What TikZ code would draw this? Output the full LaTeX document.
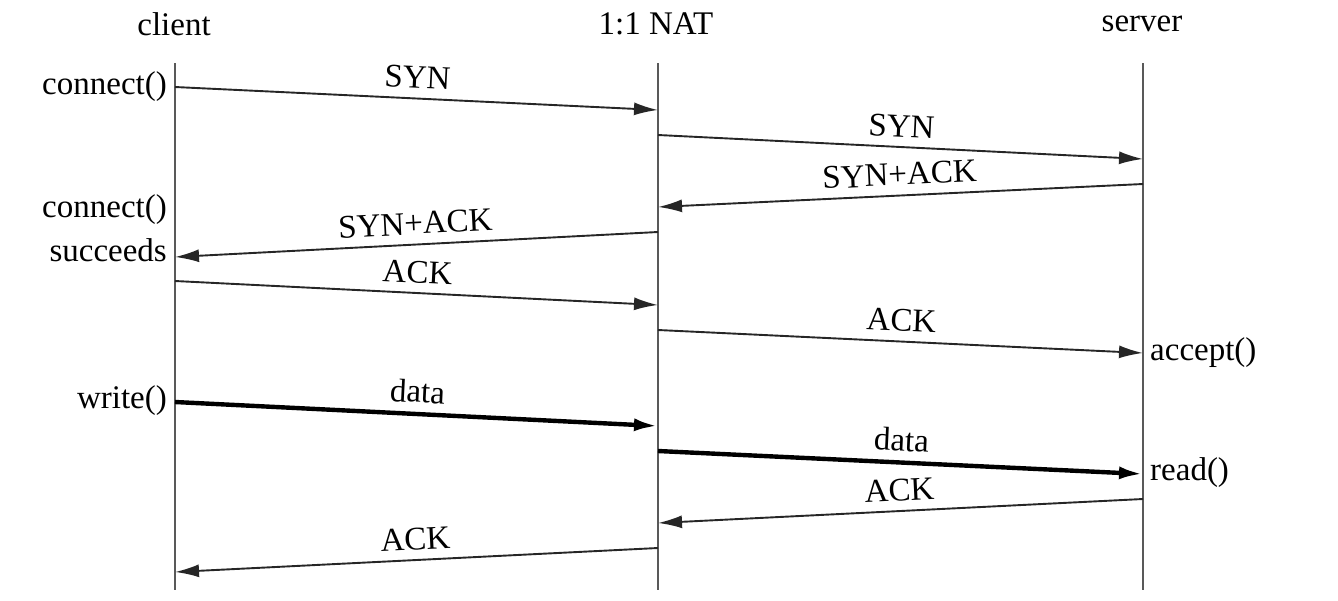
\documentclass[tikz,border=0pt]{standalone}
\usepackage{fontspec}
\setmainfont{Liberation Serif}
\usetikzlibrary{arrows.meta}
\begin{document}
\begin{tikzpicture}[x=1pt,y=-1pt,
  txt/.style={font=\fontsize{33}{36}\selectfont, inner sep=0pt},
  lifeline/.style={draw=black!65, line width=1.8pt},
  msg/.style={draw=black!85, line width=1.9pt, -{Latex[length=24pt,width=13pt]}},
  datamsg/.style={draw=black, line width=4.4pt, -{Latex[length=24pt,width=13pt]}},
  lab/.style={txt, midway, above, sloped, inner xsep=0pt, inner ysep=9pt}]
\useasboundingbox (0,0) rectangle (1338,600);
% headers
\node[txt] (client) at (174,24) {client};
\node[txt] (nat) at (656,24) {1:1 NAT};
\node[txt] (server) at (1142,24) {server};
% lifelines
\coordinate (ct) at (175,63); \coordinate (cb) at (175,590);
\coordinate (nt) at (658,63); \coordinate (nb) at (658,590);
\coordinate (st) at (1143,63); \coordinate (sb) at (1143,590);
\draw[lifeline] (ct) -- (cb);
\draw[lifeline] (nt) -- (nb);
\draw[lifeline] (st) -- (sb);
% endpoints
\coordinate (c1) at (175,87);  \coordinate (n1) at (658,110);
\coordinate (n2) at (658,135); \coordinate (s2) at (1143,159);
\coordinate (s3) at (1143,184);\coordinate (n3) at (658,207);
\coordinate (n4) at (658,232); \coordinate (c4) at (175,257);
\coordinate (c5) at (175,281); \coordinate (n5) at (658,305);
\coordinate (n6) at (658,330); \coordinate (s6) at (1143,353);
\coordinate (c7) at (175,402); \coordinate (n7) at (658,426);
\coordinate (n8) at (658,451); \coordinate (s8) at (1143,474);
\coordinate (s9) at (1143,499);\coordinate (n9) at (658,523);
\coordinate (n10) at (658,548);\coordinate (c10) at (175,572);
% messages
\draw[msg] (c1) -- node[lab] (l1) {SYN} (n1);
\draw[msg] (n2) -- node[lab] (l2) {SYN} (s2);
\draw[msg] (s3) -- node[lab] (l3) {SYN+ACK} (n3);
\draw[msg] (n4) -- node[lab] (l4) {SYN+ACK} (c4);
\draw[msg] (c5) -- node[lab] (l5) {ACK} (n5);
\draw[msg] (n6) -- node[lab] (l6) {ACK} (s6);
\draw[datamsg] (c7) -- node[lab] (l7) {data} (n7);
\draw[datamsg] (n8) -- node[lab] (l8) {data} (s8);
\draw[msg] (s9) -- node[lab] (l9) {ACK} (n9);
\draw[msg] (n10) -- node[lab] (l10) {ACK} (c10);
% side labels
\node[txt, anchor=east] (k1) at (167,87) {connect()};
\node[txt, anchor=east] (k2) at (167,210) {connect()};
\node[txt, anchor=east] (k3) at (167,250) {succeeds};
\node[txt, anchor=east] (k4) at (167,401) {write()};
\node[txt, anchor=west] (k5) at (1150,353) {accept()};
\node[txt, anchor=west] (k6) at (1150,473) {read()};
\end{tikzpicture}
\end{document}
